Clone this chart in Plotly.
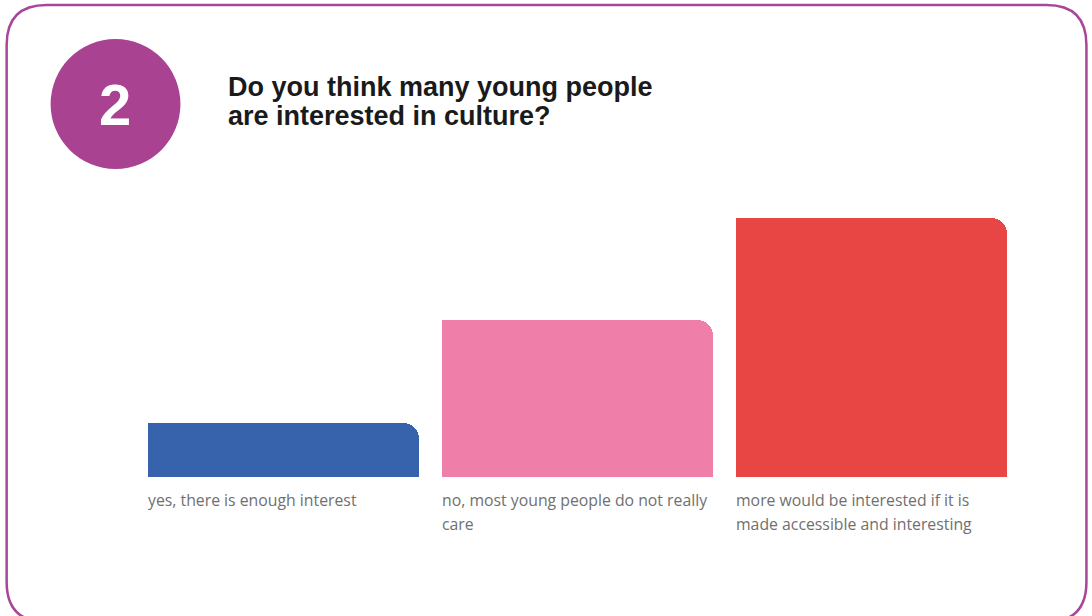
import plotly.graph_objects as go

# ---- data ----
categories = [
    "yes, there is enough interest",
    "no, most young people do not really<br>care",
    "more would be interested if it is<br>made accessible and interesting",
]
values = [11.5, 33.4, 55.1]
colors = ["#3763AD", "#EF7FA9", "#E84644"]
title_lines = ["Do you think many young people", "are interested in culture?"]
badge = "2"

# ---- layout geometry (pixels) ----
W_PX, H_PX = 1092, 616
L, R, T, B = 136.5, 73.5, 218, 139
PW = W_PX - L - R
PH = H_PX - T - B
BASE_Y = H_PX - B
BAR_W = 0.922


def px(x):
    return (x - L) / PW


def py(y):
    return (BASE_Y - y) / PH


xs = list(range(len(categories)))

fig = go.Figure()
fig.add_trace(go.Bar(
    x=xs, y=values, width=BAR_W,
    marker=dict(color=colors, line=dict(width=0), cornerradius=16),
    hoverinfo="skip", showlegend=False,
))
# square off the top-left corners
fig.add_trace(go.Bar(
    x=xs, y=values, width=BAR_W / 2, offset=-BAR_W / 2,
    marker=dict(color=colors, line=dict(width=0)),
    hoverinfo="skip", showlegend=False,
))

annotations = []
label_font = dict(family="Open Sans, Lato, sans-serif", size=15.8, color="#707070")
for i, lab in enumerate(categories):
    for j, line in enumerate(lab.split("<br>")):
        annotations.append(dict(
            xref="x", yref="paper", x=i - BAR_W / 2, y=py(500 + 24 * j),
            text=line, showarrow=False, xanchor="left", yanchor="middle",
            xshift=-2, font=label_font,
        ))

title_font = dict(family="Liberation Sans, Arial, sans-serif",
                  size=27, color="#1a1a1a")
for j, line in enumerate(title_lines):
    annotations.append(dict(
        xref="paper", yref="paper", x=px(226), y=py(87 + 29 * j),
        text="<b>" + line + "</b>", showarrow=False,
        xanchor="left", yanchor="middle", font=title_font,
    ))

annotations.append(dict(
    xref="paper", yref="paper", x=px(114), y=py(104),
    text="<b>" + badge + "</b>", showarrow=False,
    xanchor="center", yanchor="middle",
    font=dict(family="Liberation Sans, Arial, sans-serif",
              size=58, color="white"),
))

# rounded border frame
x0, x1, y0, y1, r = 6, 1087, 5, 622, 40
pts = (
    f"M {px(x0 + r)},{py(y0)} L {px(x1 - r)},{py(y0)} "
    f"Q {px(x1)},{py(y0)} {px(x1)},{py(y0 + r)} "
    f"L {px(x1)},{py(y1 - r)} Q {px(x1)},{py(y1)} {px(x1 - r)},{py(y1)} "
    f"L {px(x0 + r)},{py(y1)} Q {px(x0)},{py(y1)} {px(x0)},{py(y1 - r)} "
    f"L {px(x0)},{py(y0 + r)} Q {px(x0)},{py(y0)} {px(x0 + r)},{py(y0)} Z"
)
shapes = [
    dict(type="path", xref="paper", yref="paper", path=pts,
         line=dict(color="#A8479A", width=2.5), fillcolor="rgba(0,0,0,0)",
         layer="below"),
    dict(type="circle", xref="paper", yref="paper",
         x0=px(50), x1=px(180), y0=py(169), y1=py(39),
         fillcolor="#A84291", line=dict(width=0), layer="below"),
]

fig.update_layout(
    width=W_PX, height=H_PX,
    margin=dict(l=L, r=R, t=T, b=B, pad=0),
    barmode="overlay", bargap=0,
    paper_bgcolor="white", plot_bgcolor="white",
    xaxis=dict(range=[-0.5, 2.5], visible=False, fixedrange=True),
    yaxis=dict(range=[0, max(values)], visible=False, fixedrange=True),
    annotations=annotations, shapes=shapes,
)

fig.write_html("out.html", config={"displayModeBar": False})
